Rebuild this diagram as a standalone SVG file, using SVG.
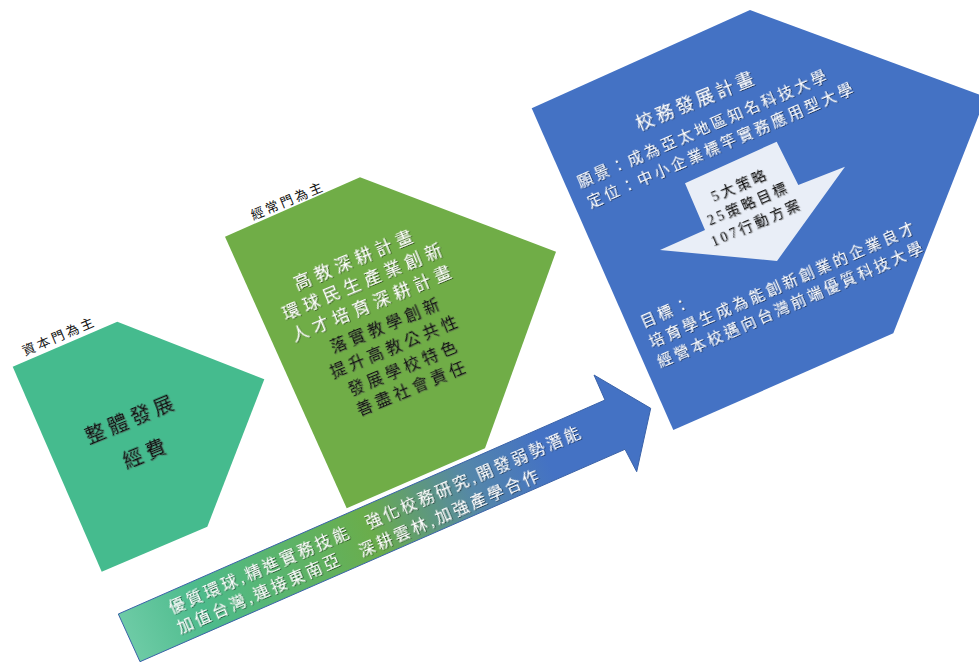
<svg xmlns="http://www.w3.org/2000/svg" width="979" height="664" viewBox="0 0 979 664">
  <defs>
    <linearGradient id="arrowGrad" gradientUnits="userSpaceOnUse" x1="125" y1="640" x2="640" y2="420">
      <stop offset="0" stop-color="#6fcca7"/>
      <stop offset="0.15" stop-color="#4dbb8c"/>
      <stop offset="0.48" stop-color="#6aad4b"/>
      <stop offset="0.68" stop-color="#5486aa"/>
      <stop offset="0.82" stop-color="#4472c4"/>
      <stop offset="1" stop-color="#4472c4"/>
    </linearGradient>
    <filter id="shW" x="-10%" y="-50%" width="120%" height="200%">
      <feDropShadow dx="0.8" dy="1" stdDeviation="0.7" flood-color="#000" flood-opacity="0.55"/>
    </filter>
    <filter id="shK" x="-10%" y="-50%" width="120%" height="200%">
      <feDropShadow dx="0.8" dy="1" stdDeviation="0.7" flood-color="#555" flood-opacity="0.45"/>
    </filter>
  </defs>
  <style>
    text { font-family: "Liberation Serif", "Noto Sans CJK TC", serif; dominant-baseline: central; }
    .c { text-anchor: middle; }
    .s { text-anchor: start; }
    .w { fill: #ffffff; filter: url(#shW); }
    .k { fill: #111111; filter: url(#shK); }
    .lbl { fill: #111111; font-size: 13px; letter-spacing: 2.8px; }
  </style>

  <g id="connectors">
    <polygon points="118.3,614 605,400 594,375 650.7,408.3 636.7,471.7 625,449.3 140,661.7" fill="url(#arrowGrad)" stroke="#3a62a8" stroke-width="1"/>
    <g font-size="16" letter-spacing="3">
      <text class="s w" transform="translate(169.4,608.2) rotate(-23.4)">優質環球,精進實務技能</text>
      <text class="s w" transform="translate(366,523.2) rotate(-23.4)">強化校務研究,開發弱勢潛能</text>
      <text class="s w" transform="translate(177.7,628.2) rotate(-23.4)">加值台灣,連接東南亞</text>
      <text class="s w" transform="translate(359.4,551.5) rotate(-23.4)">深耕雲林,加強產學合作</text>
    </g>
  </g>

  <g id="node-capital">
    <polygon points="12.7,366.7 117.3,321.7 264.3,379.3 207.3,526.7 101.7,571.7" fill="#45bb8e"/>
    <text class="c lbl" transform="translate(59.2,336.2) rotate(-23.2)">資本門為主</text>
    <g font-size="20" letter-spacing="4.5">
      <text class="c k" transform="translate(131.5,419.2) rotate(-22.5)">整體發展</text>
      <text class="c k" transform="translate(146.5,453.3) rotate(-22.5)">經費</text>
    </g>
  </g>

  <g id="node-recurrent">
    <polygon points="225,236.7 360,177.3 556,251.7 485,448.3 346.7,508.3" fill="#70ad47"/>
    <text class="c lbl" transform="translate(288,200.8) rotate(-22.6)">經常門為主</text>
    <g font-size="17" letter-spacing="5">
      <text class="c w" transform="translate(355.5,259.2) rotate(-22.5)">高教深耕計畫</text>
      <text class="c w" transform="translate(364.4,280.9) rotate(-22.5)">環球民生產業創新</text>
      <text class="c w" transform="translate(373.6,303) rotate(-22.5)">人才培育深耕計畫</text>
    </g>
    <g font-size="16" letter-spacing="4">
      <text class="c k" transform="translate(386.5,324.5) rotate(-22.5)">落實教學創新</text>
      <text class="c k" transform="translate(395.3,345.8) rotate(-22.5)">提升高教公共性</text>
      <text class="c k" transform="translate(404.1,367) rotate(-22.5)">發展學校特色</text>
      <text class="c k" transform="translate(412.5,387.4) rotate(-22.5)">善盡社會責任</text>
    </g>
  </g>

  <g id="node-plan">
    <polygon points="531.7,108.3 750,10 986,97 893.3,333.3 673.3,430" fill="#4472c4"/>
    <text class="c w" font-size="18" letter-spacing="3.5" transform="translate(696.5,101) rotate(-22)">校務發展計畫</text>
    <g font-size="15" letter-spacing="3.2">
      <text class="s w" transform="translate(578.1,183) rotate(-23.5)">願景：成為亞太地區知名科技大學</text>
      <text class="s w" transform="translate(588.1,203) rotate(-23.5)">定位：中小企業標竿實務應用型大學</text>
      <text class="s w" transform="translate(641.4,323) rotate(-23.7)">目標：</text>
      <text class="s w" transform="translate(649.8,343) rotate(-23.7)">培育學生成為能創新創業的企業良才</text>
      <text class="s w" transform="translate(658.1,363) rotate(-23.7)">經營本校邁向台灣前端優質科技大學</text>
    </g>
    <polygon points="685,183.3 776.7,141.7 798.3,185 845,166.7 777,261 660,250 705,230" fill="#e9eef7"/>
    <g font-size="14" letter-spacing="3">
      <text class="c k" transform="translate(739.8,185) rotate(-23.6)">5大策略</text>
      <text class="c k" transform="translate(748.2,203.3) rotate(-23.6)">25策略目標</text>
      <text class="c k" transform="translate(756.5,222.5) rotate(-23.6)">107行動方案</text>
    </g>
  </g>
</svg>
